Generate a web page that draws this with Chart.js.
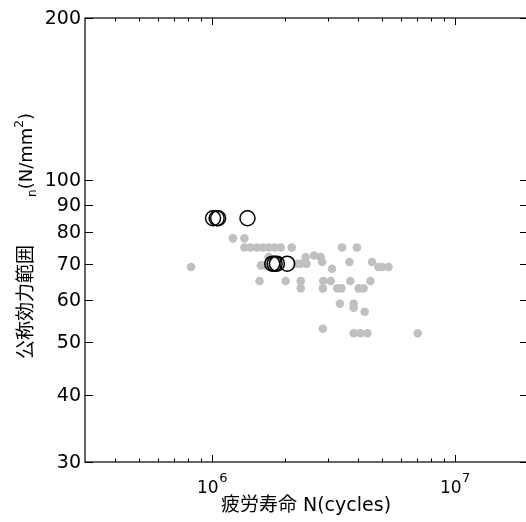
<!DOCTYPE html>
<html>
<head>
<meta charset="utf-8">
<script src="https://cdn.jsdelivr.net/npm/chart.js@4.4.0/dist/chart.umd.min.js"></script>
<style>
  html, body { margin: 0; padding: 0; background: #fff; overflow: hidden; }
  #wrap { width: 526px; height: 522px; overflow: hidden; }
</style>
</head>
<body>
<div id="wrap"><canvas id="myChart" width="530" height="522"></canvas></div>
<script>
// gray dots: fatigue life N (cycles) and nominal stress range (N/mm2)
var grayN = [8.2e5, 1.22e6, 1.36e6,
  1.36e6, 1.44e6, 1.53e6, 1.62e6, 1.71e6, 1.81e6, 1.92e6, 2.13e6, 3.43e6, 3.95e6,
  1.71e6, 2.43e6, 2.63e6, 2.80e6,
  1.59e6, 1.66e6, 2.24e6, 2.32e6, 2.45e6, 2.84e6, 3.68e6, 4.56e6,
  4.85e6, 5.01e6, 5.33e6,
  3.12e6,
  1.57e6, 2.01e6, 2.32e6, 2.87e6, 3.08e6, 3.71e6, 4.49e6,
  2.32e6, 2.86e6, 3.28e6, 3.41e6, 4.02e6, 4.21e6,
  3.36e6, 3.83e6, 3.83e6, 4.25e6,
  2.86e6,
  3.83e6, 4.08e6, 4.36e6, 7.03e6];
var grayS = [69, 78, 78,
  75, 75, 75, 75, 75, 75, 75, 75, 75, 75,
  72, 72, 72.5, 72,
  69.5, 69.5, 70, 70, 70, 70.5, 70.5, 70.5,
  69, 69, 69,
  68.5,
  65, 65, 65, 65, 65, 65, 65,
  63, 63, 63, 63, 63, 63,
  59, 59, 58, 57,
  53,
  52, 52, 52, 52];

// black open circles
var circleN = [1.01e6, 1.045e6, 1.06e6, 1.40e6, 1.77e6, 1.81e6, 1.85e6, 2.04e6];
var circleS = [85, 85, 85, 85, 70, 70, 70, 70];

// axes
var xMin = 3e5, xMax = 2e7;
var yMin = 30, yMax = 200;
var yTicks = [30, 40, 50, 60, 70, 80, 90, 100, 200];
var xMajor = [1e6, 1e7];
var xMajorExp = ['6', '7'];
var xMinor = [4e5, 5e5, 6e5, 7e5, 8e5, 9e5, 2e6, 3e6, 4e6, 5e6, 6e6, 7e6, 8e6, 9e6];

var xTitleJa = '疲労寿命';
var xTitleEn = ' N(cycles)';
var yTitleJa = '公称効力範囲';
var yTitleSub = 'n';
var yTitleEn = '(N/mm';
var yTitleSup = '2';
var yTitleEnd = ')';

var latin = '"DejaVu Sans", sans-serif';
var cjk = '"Noto Sans CJK JP", sans-serif';

function pts(xs, ys) {
  var out = [];
  for (var i = 0; i < xs.length; i++) out.push({x: xs[i], y: ys[i]});
  return out;
}

var axesPlugin = {
  id: 'axesPlugin',
  afterDraw: function(chart) {
    var ctx = chart.ctx;
    var a = chart.chartArea;
    var xs = chart.scales.x, ys = chart.scales.y;
    ctx.save();
    ctx.strokeStyle = '#000';
    ctx.lineWidth = 1.2;
    ctx.strokeRect(a.left, a.top, a.right - a.left, a.bottom - a.top);

    ctx.lineWidth = 1;
    ctx.beginPath();
    // y ticks, pointing inward on both sides
    yTicks.forEach(function(v) {
      var py = Math.round(ys.getPixelForValue(v)) + 0.5;
      ctx.moveTo(a.left, py); ctx.lineTo(a.left + 8, py);
      ctx.moveTo(a.right, py); ctx.lineTo(a.right - 8, py);
    });
    xMajor.forEach(function(v) {
      var px = Math.round(xs.getPixelForValue(v)) + 0.5;
      ctx.moveTo(px, a.bottom); ctx.lineTo(px, a.bottom - 7);
      ctx.moveTo(px, a.top); ctx.lineTo(px, a.top + 7);
    });
    xMinor.forEach(function(v) {
      var px = Math.round(xs.getPixelForValue(v)) + 0.5;
      ctx.moveTo(px, a.bottom); ctx.lineTo(px, a.bottom - 3.5);
      ctx.moveTo(px, a.top); ctx.lineTo(px, a.top + 3.5);
    });
    ctx.stroke();

    // y tick labels
    ctx.fillStyle = '#000';
    ctx.font = '19px ' + latin;
    ctx.textAlign = 'right';
    ctx.textBaseline = 'middle';
    yTicks.forEach(function(v) {
      ctx.fillText(String(v), a.left - 4, ys.getPixelForValue(v) + 1);
    });

    // x tick labels 10^n
    ctx.textBaseline = 'alphabetic';
    ctx.textAlign = 'left';
    xMajor.forEach(function(v, i) {
      var px = xs.getPixelForValue(v);
      ctx.font = '17px ' + latin;
      var w1 = ctx.measureText('10').width;
      ctx.font = '13px ' + latin;
      var w2 = ctx.measureText(xMajorExp[i]).width;
      var x0 = px - (w1 + w2) / 2;
      ctx.font = '17px ' + latin;
      ctx.fillText('10', x0, 493);
      ctx.font = '13px ' + latin;
      ctx.fillText(xMajorExp[i], x0 + w1 + 0.5, 482);
    });

    // x title
    ctx.font = '19px ' + cjk;
    var wJa = ctx.measureText(xTitleJa).width;
    ctx.font = '19px ' + latin;
    var wEn = ctx.measureText(xTitleEn).width;
    var xt = 306 - (wJa + wEn) / 2;
    ctx.font = '19px ' + cjk;
    ctx.fillText(xTitleJa, xt, 511);
    ctx.font = '19px ' + latin;
    ctx.fillText(xTitleEn, xt + wJa, 511);

    // y title, rotated
    ctx.translate(32, 0);
    ctx.rotate(-Math.PI / 2);
    ctx.font = '19px ' + cjk;
    ctx.fillText(yTitleJa, -359, 0);
    ctx.font = '12px ' + latin;
    var wSub = ctx.measureText(yTitleSub).width;
    ctx.font = '18px ' + latin;
    var wEn1 = ctx.measureText(yTitleEn).width;
    var wEnd = ctx.measureText(yTitleEnd).width;
    ctx.font = '12px ' + latin;
    var wSup = ctx.measureText(yTitleSup).width;
    var u = -113 - (wSub + wEn1 + wSup + wEnd);
    ctx.font = '12px ' + latin;
    ctx.fillText(yTitleSub, u, 4);
    u += wSub;
    ctx.font = '18px ' + latin;
    ctx.fillText(yTitleEn, u, 0);
    u += wEn1;
    ctx.font = '12px ' + latin;
    ctx.fillText(yTitleSup, u, -9);
    u += wSup;
    ctx.font = '18px ' + latin;
    ctx.fillText(yTitleEnd, u, 0);
    ctx.restore();
  }
};

var myChart = new Chart(document.getElementById('myChart').getContext('2d'), {
  type: 'scatter',
  data: {
    datasets: [
      {
        label: 'circles',
        data: pts(circleN, circleS),
        pointRadius: 7.5,
        pointBorderWidth: 1.5,
        borderColor: '#000',
        backgroundColor: 'rgba(0,0,0,0)'
      },
      {
        label: 'gray',
        data: pts(grayN, grayS),
        pointRadius: 4.3,
        pointBorderWidth: 0,
        borderColor: 'rgba(0,0,0,0)',
        backgroundColor: '#c0c0c0'
      }
    ]
  },
  options: {
    responsive: false,
    animation: false,
    layout: { autoPadding: false, padding: { left: 85, top: 18, right: 2, bottom: 60 } },
    plugins: { legend: { display: false }, tooltip: { enabled: false } },
    scales: {
      x: { type: 'logarithmic', min: xMin, max: xMax, display: false },
      y: { type: 'logarithmic', min: yMin, max: yMax, display: false }
    }
  },
  plugins: [axesPlugin]
});
</script>
</body>
</html>
